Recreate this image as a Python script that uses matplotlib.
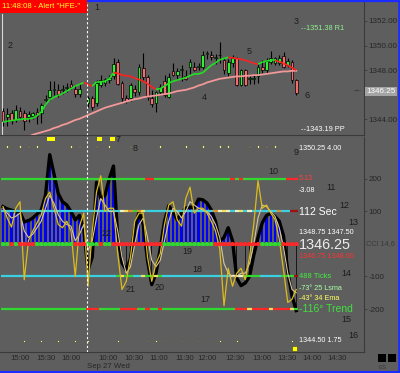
import numpy as np
import matplotlib
matplotlib.use('Agg')
import matplotlib.pyplot as plt
from matplotlib.patches import Rectangle
from matplotlib.lines import Line2D
from matplotlib.collections import LineCollection

nan = float('nan')

# ---------------- data ----------------
opens = [1344.7, 1344.2, 1344.5, 1343.95, 1344.7, 1344.5, 1344.2, 1344.3, 1344.6, 1344.5,
         1345.6, 1345.8, 1346.35, 1346.4, 1346.35, 1346.55, 1346.85, 1346.45, 1346.05, nan,
         1345.33, 1345.74, 1345.33, 1346.8, 1347.0, 1347.2, 1347.5, 1348.7, 1346.95, 1345.7,
         1345.7, 1346.5, 1346.2, 1348.2, 1347.45, 1345.7, 1345.3, 1346.2, 1347.1, 1345.8,
         1347.9, 1347.6, 1348.0, 1347.5, 1348.25, 1348.3, 1348.3, 1348.3, 1349.3, 1349.2,
         1349.0, 1349.2, 1348.8, 1347.75, 1348.56, 1348.97, 1346.8, 1348.0, 1347.3, 1347.3,
         1347.5, 1348.3, 1348.0, 1348.7, 1348.56, 1348.6, 1349.15, 1348.4, 1348.7, 1347.2]
highs = [1344.9, 1344.9, 1344.8, 1345.2, 1345.0, 1344.8, 1344.7, 1344.6, 1344.9, 1345.3,
         1346.0, 1347.1, 1347.1, 1346.9, 1346.8, 1347.0, 1347.2, 1346.8, 1347.0, nan,
         1345.9, 1345.9, 1347.2, 1347.6, 1347.4, 1347.6, 1349.0, 1348.9, 1347.1, 1346.0,
         1347.0, 1346.8, 1348.5, 1349.4, 1347.6, 1346.4, 1346.3, 1346.9, 1347.6, 1347.8,
         1348.6, 1348.2, 1348.4, 1348.0, 1348.9, 1348.7, 1348.6, 1349.6, 1349.6, 1349.6,
         1349.3, 1350.3, 1349.0, 1348.9, 1349.2, 1349.1, 1348.1, 1348.1, 1347.6, 1347.7,
         1348.5, 1348.8, 1349.0, 1349.6, 1349.1, 1349.2, 1349.5, 1349.0, 1348.8, 1347.3]
lows = [1343.5, 1343.5, 1343.6, 1343.8, 1344.0, 1343.1, 1343.8, 1344.0, 1343.6, 1343.7,
        1345.4, 1345.6, 1346.0, 1345.8, 1346.1, 1346.2, 1346.5, 1345.8, 1345.8, nan,
        1345.0, 1344.8, 1345.1, 1346.6, 1346.7, 1347.0, 1347.3, 1346.8, 1345.4, 1345.3,
        1345.5, 1345.9, 1346.0, 1347.2, 1345.6, 1345.0, 1344.6, 1346.0, 1345.8, 1345.7,
        1347.5, 1347.3, 1347.1, 1347.2, 1347.7, 1347.9, 1348.0, 1348.1, 1348.9, 1348.8,
        1348.5, 1348.6, 1347.7, 1347.5, 1348.3, 1346.7, 1346.7, 1346.7, 1346.9, 1346.9,
        1347.0, 1347.8, 1347.8, 1348.5, 1348.4, 1348.4, 1348.2, 1348.3, 1347.0, 1346.0]
closes = [1343.9, 1344.4, 1343.9, 1344.8, 1344.2, 1343.9, 1344.4, 1344.5, 1344.3, 1345.2,
          1345.65, 1346.4, 1346.45, 1346.05, 1346.5, 1346.6, 1346.6, 1346.05, 1346.5, nan,
          1345.74, 1345.0, 1346.96, 1347.2, 1347.3, 1347.4, 1348.5, 1346.9, 1345.74, 1345.5,
          1346.8, 1346.2, 1348.3, 1347.45, 1345.8, 1345.25, 1346.2, 1346.6, 1346.0, 1347.45,
          1347.6, 1347.9, 1348.05, 1347.3, 1348.65, 1348.0, 1348.35, 1349.2, 1349.3, 1349.05,
          1349.0, 1349.2, 1348.0, 1348.7, 1348.97, 1346.8, 1348.0, 1346.8, 1347.3, 1347.35,
          1348.3, 1348.0, 1348.77, 1348.97, 1348.97, 1349.0, 1348.3, 1348.77, 1347.2, 1346.17]
fast_ma = [1343.8, 1343.85, 1343.9, 1343.95, 1344.0, 1344.05, 1344.05, 1344.1, 1344.3, 1344.6,
           1345.2, 1345.6, 1345.8, 1345.95, 1346.1, 1346.3, 1346.5, 1346.7, 1346.85, 1347.0,
           1346.85, 1346.7, 1347.05, 1347.05, 1347.1, 1347.3, 1347.8, 1347.75, 1347.6, 1347.55,
           1347.5, 1347.35, 1347.25, 1347.1, 1346.9, 1346.65, 1346.45, 1346.5, 1346.7, 1346.95,
           1347.1, 1347.2, 1347.3, 1347.4, 1347.55, 1347.7, 1347.7, 1347.8, 1348.1, 1348.4,
           1348.6, 1348.85, 1348.95, 1349.05, 1349.0, 1348.95, 1348.9, 1348.8, 1348.7, 1348.55,
           1348.5, 1348.65, 1348.75, 1348.8, 1348.8, 1348.7, 1348.55, 1348.4, 1348.2, 1348.0]
slow_ma = [1341.9, 1342.0, 1342.15, 1342.3, 1342.4, 1342.5, 1342.6, 1342.75, 1342.85, 1342.95,
           1343.05, 1343.15, 1343.3, 1343.4, 1343.55, 1343.65, 1343.8, 1343.95, 1344.05, 1344.2,
           1344.35, 1344.5, 1344.65, 1344.8, 1344.95, 1345.05, 1345.15, 1345.25, 1345.35, 1345.45,
           1345.55, 1345.65, 1345.7, 1345.8, 1345.85, 1345.9, 1345.95, 1346.0, 1346.05, 1346.1,
           1346.2, 1346.3, 1346.35, 1346.4, 1346.5, 1346.6, 1346.75, 1346.85, 1347.0, 1347.1,
           1347.2, 1347.3, 1347.35, 1347.4, 1347.45, 1347.5, 1347.5, 1347.55, 1347.55, 1347.6,
           1347.6, 1347.65, 1347.7, 1347.75, 1347.8, 1347.85, 1347.9, 1347.9, 1347.95, 1347.95]

cci = [115, 108, 104, 100, 98, 68, 72, 80, 92, 105,
       150, 275, 215, 155, 130, 120, 100, 74, 88, 45,
       -80, -40, 190, 140, 150, 200, 240, 20, -58, -80,
       -45, 45, 98, 60, -50, -125, -90, -15, 70, 118,
       98, 74, 95, 110, 114, 110, 138, 136, 126, 105,
       70, 8, 20, 50, 10, -105, -128, -120, -100, -35,
       20, 65, 88, 94, 85, 70, 25, -85, -160, -205]
cci_fast = [115, 80, 52, 110, 130, -110, 10, 40, 65, 90,
            140, 160, 110, 60, 50, 70, 40, -100, 55, 95,
            -130, 40, 160, 210, 100, 110, 110, -30, -140, -115,
            -40, 70, 95, 95, -40, -115, -60, -30, 60, 120,
            130, 74, 55, 140, 175, 95, 110, 110, 95, 70,
            40, -15, -190, -75, -130, -90, -75, -110, -40, 60,
            195, 110, 120, 95, 75, 15, -80, -180, -170, -140]
cci_smooth = [110, 95, 80, 85, 95, 40, 20, 30, 50, 70,
              110, 150, 125, 90, 70, 60, 55, 10, 30, 60,
              -20, 10, 80, 140, 120, 100, 100, 40, -40, -90,
              -70, 0, 60, 80, 20, -50, -70, -50, 10, 70,
              110, 100, 80, 100, 130, 120, 110, 105, 100, 85,
              60, 20, -60, -90, -100, -100, -90, -90, -60, 0,
              80, 120, 115, 100, 85, 50, -10, -90, -140, -150]

zero_colors = "ggrgrrrr" + "g" * 9 + "rrr" + "ggg" + "r" + "gg" + "r" * 12 + "g" * 12 + "r" * 11 + "g" * 5 + "r" * 4
level_colors = {
    200: "g" * 34 + "rr" + "g" * 18 + "rgr" + "g" * 10 + "rrr",
    100: "c" * 28 + "wyogoy" + "c" * 16 + "ow" + "ywcwycw" + "c" * 6 + "o" + "cc" + "dd",
    -100: "c" * 27 + "gygg" + "cc" + "yggyg" + "c" * 16 + "www" + "gggg" + "c" * 5 + "ggg" + "d",
    -200: "g" * 20 + "rrr" + "g" * 5 + "rrrr" + "gg" + "r" + "gg" + "r" + "g" * 17 + "rrr" + "y" + "rrrr" + "y" + "rrrr" + "yg",
}

tick_pos = [4, 10, 16, 24.7, 30.8, 36.7, 42.8, 48, 54.6, 60.9, 66.8, 72.7, 78.6]
tick_labels = ['15:00', '15:30', '16:00', '10:00', '10:30', '11:00', '11:30',
               '12:00', '12:30', '13:00', '13:30', '14:00', '14:30']
price_ticks = [1344, 1346, 1348, 1350, 1352]
cci_ticks = [200, 100, -100, -200]
session_break = 19.75

top_dots = [1, 4, 6, 8, 16, 18, 22, 25, 30, 37, 43, 47, 51, 53, 58, 60, 62, 64]
bottom_dots = [5, 9, 13, 17, 20, 27, 34, 36, 38, 42, 46, 51, 55, 68]
big_marks = [11.3, 22.7, 25.8]
big_widths = [1.9, 1.2, 1.2]

r1_level, pp_level = 1351.38, 1343.19
last_price = 1346.25

# ---------------- style ----------------
W, H = 400, 373
BG = '#5e5e5e'
DARK = '#262626'
plt.rcParams['font.family'] = ['Liberation Sans', 'DejaVu Sans']
cmap = {'g': '#30d830', 'r': '#ff2828', 'c': '#3ad0e0', 'y': '#f0e060',
        'w': '#f0f0c0', 'o': '#e09030', 'd': '#a01010'}


def fx(x):
    return x / W


def fy(y):
    return 1 - y / H


fig = plt.figure(figsize=(W / 100, H / 100), dpi=100, facecolor=BG)
ax1 = fig.add_axes([0, fy(135), fx(364), 135 / H])
ax2 = fig.add_axes([0, fy(352), fx(364), (352 - 137) / H])
n = len(closes)
idx = np.arange(n)

for ax in (ax1, ax2):
    ax.set_facecolor(BG)
    ax.set_xlim(-0.706, 84.94)
    for s in ('top', 'left'):
        ax.spines[s].set_visible(False)
    for s in ('right', 'bottom'):
        ax.spines[s].set_color('#3a3a3a')
        ax.spines[s].set_linewidth(0.8)
    ax.yaxis.tick_right()
    ax.tick_params(axis='y', colors='#3a3a3a', length=2, width=0.6, pad=1,
                   labelsize=5.8, labelcolor=DARK)
    ax.axvline(session_break, color='white', lw=0.8, ls=(0, (2, 2)), zorder=9)

# ---------- price panel ----------
ax1.set_ylim(1342.732, 1353.707)
ax1.set_xticks([])
ax1.set_yticks(price_ticks)
ax1.set_yticklabels(['' if v == round(last_price) else '%.2f' % v for v in price_ticks])
ax1.axvline(-0.3, ymax=0.896, color='#d8d8d8', lw=0.8)

o, h, l, c = map(np.array, (opens, highs, lows, closes))
ok = ~np.isnan(c)
ax1.vlines(idx[ok], l[ok], h[ok], color='black', lw=0.8, zorder=2)
body_lo = np.minimum(o, c)
body_h = np.maximum(np.abs(c - o), 0.06)
cols = np.where(c >= o, '#33ee33', '#f26e6e')
ax1.bar(idx[ok], body_h[ok], bottom=body_lo[ok], width=0.7, color=cols[ok],
        edgecolor='black', linewidth=0.5, zorder=3)

ax1.plot(idx, slow_ma, color='#f29898', lw=1.3, zorder=4)
fm = np.array(fast_ma)
segs = [[(i, fm[i]), (i + 1, fm[i + 1])] for i in range(n - 1)]
seg_cols = ['#22e022' if fm[i + 1] >= fm[i] else '#ff2020' for i in range(n - 1)]
ax1.add_collection(LineCollection(segs, colors=seg_cols, linewidths=1.2, zorder=5))

ax1.text(70, r1_level, '--%.2f R1' % r1_level, color='#90f090', fontsize=5.3,
         va='center', ha='left')
ax1.text(70, pp_level, '--%.2f PP' % pp_level, color='white', fontsize=5.3,
         va='center', ha='left')
fig.text(fx(366.5), fy(91.5), '%.2f' % last_price, color='white', fontsize=5.8,
         va='center', ha='left', zorder=10,
         bbox=dict(facecolor='#a4a4a4', edgecolor='none', pad=0.8))
fig.text(fx(358), fy(91), '-+-', color='#2a2a2a', fontsize=4.5, ha='center', va='center')

# ---------- CCI panel ----------
ax2.set_ylim(-332.3, 329.2)
ax2.set_yticks(cci_ticks)
ax2.set_yticklabels([str(v) for v in cci_ticks])
ax2.set_xticks(tick_pos)
ax2.set_xticklabels(tick_labels)
ax2.tick_params(axis='x', length=0, pad=2, labelsize=5.6, labelcolor=DARK)

cv = np.array(cci)
pos = cv > 0
ax2.bar(idx[pos], cv[pos], width=0.5, color='#0000ff', zorder=2)
ax2.bar(idx[~pos], cv[~pos], width=0.22, color='#1a1a1a', zorder=2)
ax2.plot(idx, cv, color='black', lw=2.4, zorder=3, solid_joinstyle='round')

for lvl, colstr in level_colors.items():
    segs = [[(i - 0.5, lvl), (i + 0.5, lvl)] for i in range(n)]
    ax2.add_collection(LineCollection(segs, colors=[cmap[ch] for ch in colstr],
                                      linewidths=1.6, zorder=4))

ax2.plot(idx, cci_smooth, color='#d8c79c', lw=0.8, zorder=5)
ax2.plot(idx, cci_fast, color='#dcbc1c', lw=0.9, zorder=6)

zsegs = [[(i - 0.5, 0), (i + 0.5, 0)] for i in range(n)]
zc = [cmap[ch] for ch in zero_colors]
ax2.add_collection(LineCollection(zsegs, colors=zc, linewidths=1.8, zorder=7))
ax2.scatter(idx, np.zeros(n), c=zc, s=9, zorder=8, linewidths=0)

ax2.bar(top_dots, 8, bottom=296, width=0.4, color='#f4f08a', edgecolor='#3a3a3a',
        linewidth=0.4, zorder=8)
ax2.bar(bottom_dots, 8, bottom=-302, width=0.4, color='#f4f08a', edgecolor='#3a3a3a',
        linewidth=0.4, zorder=8)
ax2.bar(big_marks, 14, bottom=316, width=big_widths, color='#ffff00', zorder=8, clip_on=False)
ax2.bar([68.5], 17, bottom=-330, width=1.2, color='#ffff00', edgecolor='#3a3a3a',
        linewidth=0.4, zorder=8)

# ---------- texts ----------
fig.patches.append(Rectangle((0, fy(13)), fx(87), 13 / H, transform=fig.transFigure,
                             facecolor='#ff0000', edgecolor='none', zorder=20))
fig.text(fx(2.5), fy(7), '11:48:08 - Alert "HFE-"', color='#ffff30', fontsize=5.6,
         va='center', ha='left', zorder=21)

marks = {'1': (97, 8), '2': (10, 45), '3': (296, 21), '4': (204, 97), '5': (249, 52),
         '6': (307, 95), '7': (118, 140), '8': (135, 148), '9': (296, 152), '10': (273, 171),
         '11': (331, 187), '12': (344, 205), '13': (353, 223), '14': (346, 273),
         '15': (346, 320), '16': (353, 336), '17': (205, 300), '18': (197, 269),
         '19': (187, 252), '20': (160, 288), '21': (131, 290), '22': (107, 233)}
for k, (x, y) in marks.items():
    fig.text(fx(x), fy(y), k, color='#1c1c1c', fontsize=6.5, ha='center', va='center', zorder=15)

side = [('1350.25 4.00', 148, 'white', 5.2), ('5.13', 179, '#ff4040', 5.2),
        ('-3.08', 190, 'white', 5.2), ('112 Sec', 212, 'white', 7.5),
        ('1348.75 1347.50', 233, 'white', 5.2), ('1346.25', 245, '#ececec', 10.4),
        ('1346.75 1348.00', 256, '#ff3030', 5.2), ('488 Ticks', 276, '#40f040', 5.4),
        ('-73\u00b0 25 Lsma', 288, '#a8ffa8', 5.2), ('-43\u00b0 34 Ema', 298, '#ffff60', 5.2),
        ('-116\u00b0 Trend', 309, '#40e040', 7.5), ('1344.50 1.75', 341, 'white', 5.2)]
for t, y, col, fs in side:
    fig.text(fx(299), fy(y), t, color=col, fontsize=fs, ha='left', va='center', zorder=15)
fig.text(fx(366), fy(244), 'CCI 14,6', color='#3a3a3a', fontsize=5.3,
         ha='left', va='center')
fig.text(fx(108), fy(367), 'Sep 27 Wed', color=DARK, fontsize=5.6,
         ha='center', va='center')

fig.patches.append(Rectangle((fx(378), fy(362)), fx(8), 8 / H, transform=fig.transFigure,
                             facecolor='black', edgecolor='none'))
fig.patches.append(Rectangle((fx(388), fy(362)), fx(8), 8 / H, transform=fig.transFigure,
                             facecolor='black', edgecolor='none'))
fig.text(fx(383), fy(367.5), 'ES', color='#3a3a3a', fontsize=4.5, ha='center', va='center')

blue = '#1a2cff'
fig.lines.append(Line2D([fx(87), 1], [fy(0.8), fy(0.8)], transform=fig.transFigure, color=blue, lw=1.6))
fig.lines.append(Line2D([fx(398.8), fx(398.8)], [0, 1], transform=fig.transFigure, color=blue, lw=1.8))
fig.lines.append(Line2D([0, 1], [fy(372), fy(372)], transform=fig.transFigure, color=blue, lw=2.2))

fig.savefig('out.png', dpi=100, facecolor=BG)
